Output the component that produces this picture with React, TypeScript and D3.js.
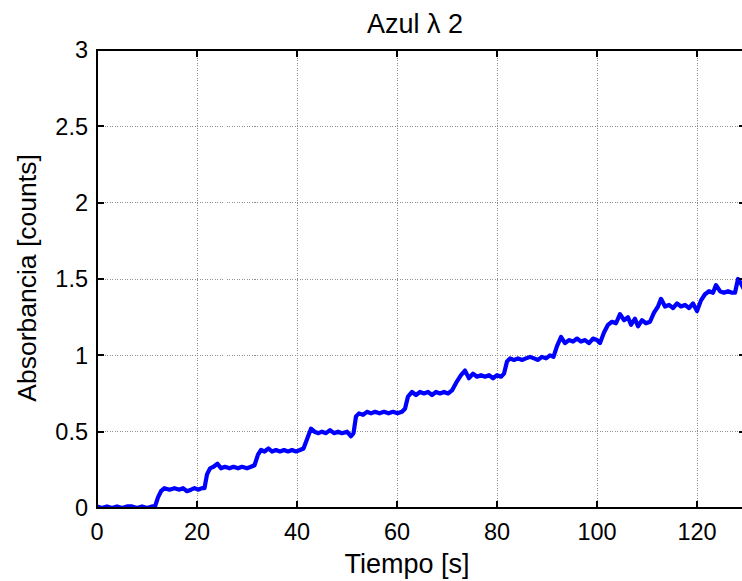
import React from "react";
import * as d3 from "d3";

// Time samples (s) and measured absorbance (counts)
const timeS = [
  0, 1, 2, 3, 4, 5, 6, 7, 8, 9, 10, 11, 11.6, 12.2, 12.8, 13.5, 14.5, 15.5, 16.5, 17.2,
  18, 18.8, 19.5, 20.2, 21, 21.5, 22, 22.6, 23.3, 24.1, 24.8, 25.6, 26.5, 27.3, 28.2, 29,
  30, 30.8, 31.5, 32.2, 32.8, 33.5, 34.3, 35, 35.8, 36.6, 37.4, 38.2, 39, 39.8, 40.6, 41.3,
  42, 42.8, 43.5, 44.3, 45, 45.8, 46.6, 47.4, 48.2, 49, 50, 50.8, 51.3, 51.8, 52.4, 53.2,
  54, 54.8, 55.6, 56.5, 57.4, 58.3, 59.2, 60.1, 61, 61.6, 62.2, 63, 63.8, 64.6, 65.4, 66.2,
  67, 67.8, 68.6, 69.4, 70.2, 71, 72, 72.8, 73.6, 74.4, 75.2, 76, 76.8, 77.6, 78.4, 79.2,
  80, 80.8, 81.4, 82, 82.6, 83.4, 84.2, 85, 85.8, 86.6, 87.4, 88.2, 89, 89.8, 90.6, 91.3,
  92, 92.8, 93.6, 94.4, 95.2, 96, 96.8, 97.6, 98.4, 99.2, 100, 100.6, 101.4, 102.2, 103,
  103.8, 104.6, 105.4, 106.2, 106.8, 107.6, 108.2, 109, 109.8, 110.6, 111.4, 112.2, 112.8,
  113.6, 114.4, 115.2, 116, 116.8, 117.6, 118.4, 119.2, 120, 120.8, 121.6, 122.4, 123.2,
  123.8, 124.6, 125.4, 126.2, 127, 127.6, 128.2, 128.8, 129.6,
];

const absorbance = [
  0.01, 0.0, 0.01, 0.0, 0.01, 0.0, 0.01, 0.01, 0.0, 0.01, 0.0, 0.01, 0.01, 0.07, 0.11, 0.13, 0.12, 0.13, 0.12, 0.13,
  0.11, 0.12, 0.13, 0.12, 0.13, 0.13, 0.22, 0.26, 0.27, 0.29, 0.26, 0.27, 0.26, 0.27, 0.26, 0.27,
  0.26, 0.27, 0.28, 0.35, 0.38, 0.37, 0.39, 0.37, 0.38, 0.37, 0.38, 0.37, 0.38, 0.37, 0.38, 0.39,
  0.45, 0.52, 0.5, 0.49, 0.5, 0.49, 0.51, 0.49, 0.5, 0.49, 0.5, 0.47, 0.49, 0.6, 0.62, 0.61,
  0.63, 0.62, 0.63, 0.62, 0.63, 0.62, 0.63, 0.62, 0.63, 0.65, 0.73, 0.76, 0.74, 0.76, 0.75, 0.76,
  0.74, 0.76, 0.75, 0.76, 0.75, 0.77, 0.83, 0.87, 0.9, 0.85, 0.88, 0.86, 0.87, 0.86, 0.87, 0.85,
  0.87, 0.86, 0.88, 0.96, 0.98, 0.97, 0.98, 0.97, 0.98, 0.99, 0.98, 0.97, 0.99, 0.98, 1.0, 0.99,
  1.06, 1.12, 1.08, 1.1, 1.09, 1.11, 1.09, 1.1, 1.08, 1.11, 1.1, 1.08, 1.15, 1.2, 1.22,
  1.21, 1.27, 1.23, 1.25, 1.2, 1.24, 1.19, 1.23, 1.21, 1.22, 1.28, 1.32, 1.37,
  1.32, 1.33, 1.31, 1.34, 1.32, 1.33, 1.31, 1.34, 1.29, 1.36, 1.4, 1.42, 1.41,
  1.46, 1.42, 1.41, 1.42, 1.41, 1.41, 1.5, 1.47, 1.42,
];

const xTicks = [0, 20, 40, 60, 80, 100, 120];
const yTicks = [0, 0.5, 1, 1.5, 2, 2.5, 3];
const xDomain = [0, 129.8];
const yDomain = [0, 3];

const W = 742;
const H = 581;
const M = { left: 97, right: 746, top: 50, bottom: 508 };
const FONT = "'Liberation Sans', Arial, Helvetica, sans-serif";

export default function App() {
  const x = d3.scaleLinear().domain(xDomain).range([M.left, M.right]);
  const y = d3.scaleLinear().domain(yDomain).range([M.bottom, M.top]);
  const pts: [number, number][] = timeS.map((t, i) => [t, absorbance[i]]);
  const line = d3
    .line<[number, number]>()
    .x((d) => x(d[0]))
    .y((d) => y(d[1]));

  const tickLen = 7;
  const fmt = (v: number) => String(v);

  return (
    <svg
      width={W}
      height={H}
      viewBox={`0 0 ${W} ${H}`}
      style={{ position: "absolute", left: 0, top: 0, background: "#fff" }}
    >
      <defs>
        <clipPath id="plot-clip">
          <rect x={M.left} y={M.top - 3} width={M.right - M.left} height={M.bottom - M.top + 3} />
        </clipPath>
      </defs>
      <rect x={0} y={0} width={W} height={H} fill="#fff" />

      {/* grid */}
      <g stroke="#8f8f8f" strokeWidth={1} strokeDasharray="1 1.5" shapeRendering="crispEdges">
        {xTicks.slice(1).map((t) => (
          <line key={`gx${t}`} x1={x(t)} x2={x(t)} y1={M.top} y2={M.bottom} />
        ))}
        {yTicks.slice(1, -1).map((t) => (
          <line key={`gy${t}`} x1={M.left} x2={M.right} y1={y(t)} y2={y(t)} />
        ))}
      </g>

      {/* data */}
      <path
        d={line(pts) ?? ""}
        fill="none"
        stroke="#0000ff"
        strokeWidth={4.2}
        strokeLinejoin="round"
        strokeLinecap="round"
        clipPath="url(#plot-clip)"
      />

      {/* axes box and inward ticks */}
      <g stroke="#000" strokeWidth={2} shapeRendering="crispEdges">
        <rect
          x={M.left}
          y={M.top}
          width={M.right - M.left}
          height={M.bottom - M.top}
          fill="none"
        />
        {xTicks.map((t) => (
          <g key={`tx${t}`}>
            <line x1={x(t)} x2={x(t)} y1={M.bottom} y2={M.bottom - tickLen} />
            <line x1={x(t)} x2={x(t)} y1={M.top} y2={M.top + tickLen} />
          </g>
        ))}
        {yTicks.map((t) => (
          <g key={`ty${t}`}>
            <line x1={M.left} x2={M.left + tickLen} y1={y(t)} y2={y(t)} />
            <line x1={M.right} x2={M.right - tickLen} y1={y(t)} y2={y(t)} />
          </g>
        ))}
      </g>

      {/* tick labels */}
      <g fontFamily={FONT} fontSize={23.5} fill="#000">
        {xTicks.map((t) => (
          <text key={`lx${t}`} x={x(t)} y={540} textAnchor="middle">
            {fmt(t)}
          </text>
        ))}
        {yTicks.map((t) => (
          <text key={`ly${t}`} x={88} y={y(t)} dy="0.36em" textAnchor="end">
            {fmt(t)}
          </text>
        ))}
      </g>

      {/* titles */}
      <text x={415} y={33} textAnchor="middle" fontFamily={FONT} fontSize={27} fill="#000">
        Azul λ 2
      </text>
      <text x={407} y={573} textAnchor="middle" fontFamily={FONT} fontSize={27} fill="#000">
        Tiempo [s]
      </text>
      <text
        transform={`translate(36, 278) rotate(-90)`}
        textAnchor="middle"
        fontFamily={FONT}
        fontSize={26.5}
        fill="#000"
      >
        Absorbancia [counts]
      </text>
    </svg>
  );
}
